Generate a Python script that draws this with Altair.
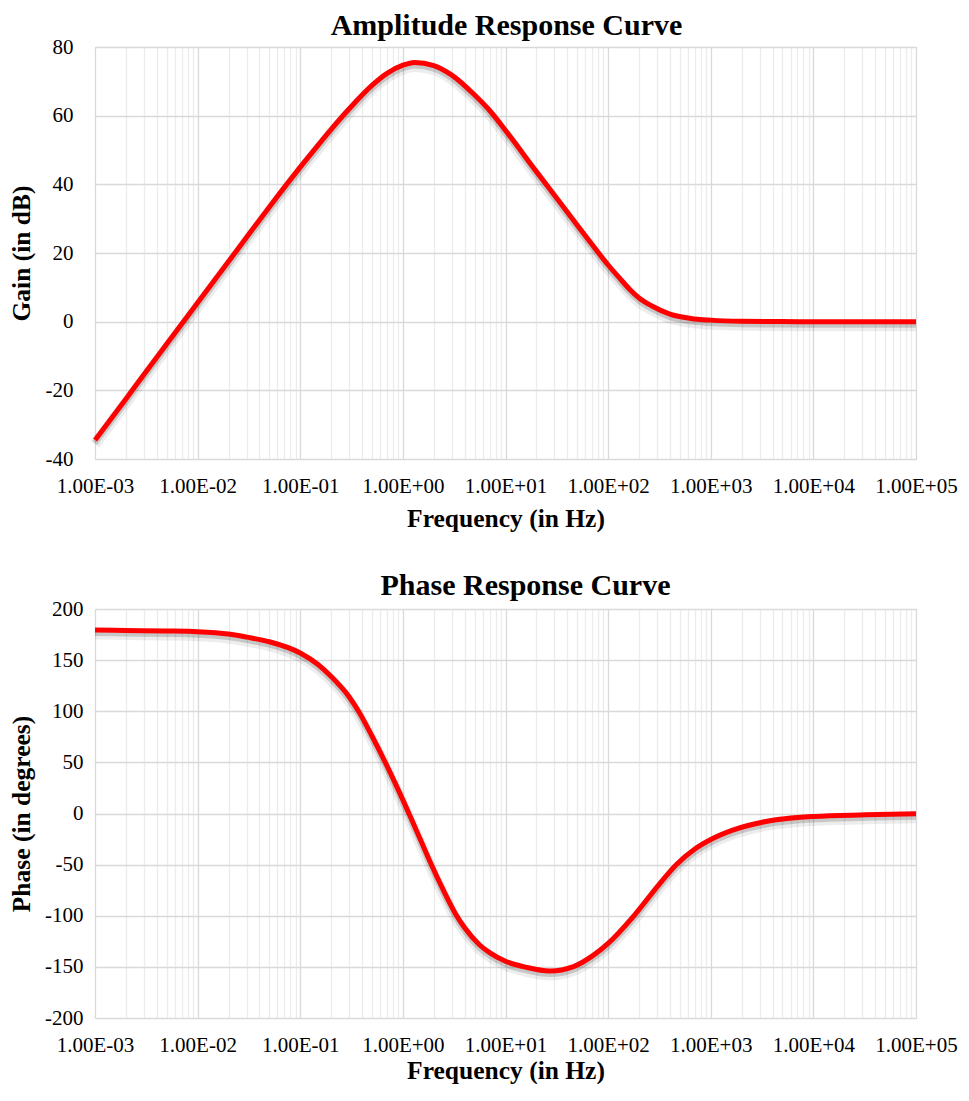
import altair as alt
import pandas as pd

# ---- data ----
amp_freq = [1e-3, 2e-3, 3e-3, 5e-3, 1e-2, 2e-2, 3e-2, 5e-2, 0.1, 0.15, 0.2, 0.3, 0.5, 0.7, 1.0, 1.3,
            2.0, 3.0, 5.0, 7.0, 10, 20, 30, 50, 70, 100, 130, 160, 200, 270, 400, 640, 1e3, 2e3,
            5e3, 1e4, 1e5]
amp_db = [-34.5, -22.5, -15.4, -6.5, 5.5, 17.5, 24.6, 33.4, 45, 51.5, 56, 62, 68.8, 72.3, 74.7, 75.5,
          74.6, 71.8, 66, 61.5, 55.7, 43.7, 36.8, 28.1, 22.4, 16.5, 12.6, 9.6, 6.9, 4.5, 2.2, 0.95,
          0.45, 0.12, 0.02, 0, 0]

ph_freq = [1e-3, 2e-3, 5e-3, 1e-2, 2e-2, 3e-2, 5e-2, 0.1, 0.15, 0.2, 0.3, 0.37, 0.5, 0.7, 1.0, 1.22,
           1.5, 1.86, 2.5, 3.22, 4.0, 5.6, 7.0, 10, 16, 27, 46, 72, 100, 175, 316, 461, 700, 1000,
           1636, 3443, 1e4, 3.2e4, 1e5]
ph_deg = [179.5, 179, 178.5, 177.8, 175.5, 172.5, 168, 157, 145.5, 134, 114, 100, 75.8, 46.6, 13.3,
          -6.1, -26.7, -48.2, -75.7, -97.2, -111.8, -128.6, -136, -144.5, -150.5, -154, -149.7,
          -138.5, -127, -101, -69, -50.1, -34.7, -25.4, -16.2, -7.8, -2.9, -1.3, -0.3]

gain_ticks = [-40, -20, 0, 20, 40, 60, 80]
phase_ticks = [-200, -150, -100, -50, 0, 50, 100, 150, 200]
decades = [-3, -2, -1, 0, 1, 2, 3, 4]
grid_vals = [m * 10.0 ** d for d in decades for m in range(1, 10)] + [1e5]

FONT = "Liberation Serif"
L = "log(datum.value)/LN10"
is_dec = f"abs({L} - round({L})) < 0.001"
label_expr = (f"{is_dec} ? '1.00E' + (round({L}) < 0 ? '-' : '+') + "
              f"(abs(round({L})) < 10 ? '0' : '') + abs(round({L})) : ''")


def xaxis(tpad):
    return alt.Axis(values=grid_vals, labelExpr=label_expr, labelOverlap=False, labelFlush=False,
                    ticks=False, domain=False, labelFont=FONT, labelFontSize=21, labelColor="#000",
                    labelPadding=16, title="Frequency (in Hz)", titleFont=FONT, titleFontSize=25.5,
                    titleFontWeight="bold", titleColor="#000", titlePadding=tpad,
                    gridColor={"condition": {"test": is_dec, "value": "#d9d9d9"}, "value": "#ececec"},
                    gridWidth=1.3)


def yaxis(title, vals, lpad, tpad):
    return alt.Axis(values=vals, labelExpr="'' + datum.value", ticks=False, domain=False,
                    labelFont=FONT, labelFontSize=21, labelColor="#000", labelPadding=lpad,
                    title=title, titleFont=FONT, titleFontSize=25.5, titleFontWeight="bold",
                    titleColor="#000", titlePadding=tpad, gridColor="#d9d9d9", gridWidth=1.3)


def panel(freq, vals, title, ytitle, ydom, yvals, height, lpad, tpad, xtpad, tdx, toff):
    df = pd.DataFrame({"f": freq, "v": vals})
    x = alt.X("f:Q", scale=alt.Scale(type="log", domain=[1e-3, 1e5], nice=False), axis=xaxis(xtpad))
    y = alt.Y("v:Q", scale=alt.Scale(domain=ydom, nice=False), axis=yaxis(ytitle, yvals, lpad, tpad))
    base = alt.Chart(df)
    sh1 = base.mark_line(color="#000", opacity=0.07, strokeWidth=11, yOffset=4,
                         interpolate="monotone").encode(x=x, y=y)
    sh2 = base.mark_line(color="#000", opacity=0.16, strokeWidth=6, yOffset=3,
                         interpolate="monotone").encode(x=x, y=y)
    line = base.mark_line(color="#ff0000", strokeWidth=5, interpolate="monotone").encode(x=x, y=y)
    return alt.layer(sh1, sh2, line).properties(
        width=821, height=height,
        title=alt.TitleParams(title, font=FONT, fontSize=30, fontWeight="bold", color="#000",
                              anchor="middle", offset=toff, dx=tdx))


top = panel(amp_freq, amp_db, "Amplitude Response Curve", "Gain (in dB)", [-40, 80], gain_ticks,
            412, 22, 11, 10, 1, -5)
bot = panel(ph_freq, ph_deg, "Phase Response Curve", "Phase (in degrees)", [-200, 200], phase_ticks,
            409, 12, 10.5, 3, 20, -3)

chart = alt.concat(top, bot, columns=1, spacing=38) \
    .configure_view(stroke="#d9d9d9", strokeWidth=1.3) \
    .configure(padding={"left": 0, "top": 2, "right": 0, "bottom": 0}, background="white")

chart.save("out.html", embed_options={"renderer": "svg", "actions": False})
